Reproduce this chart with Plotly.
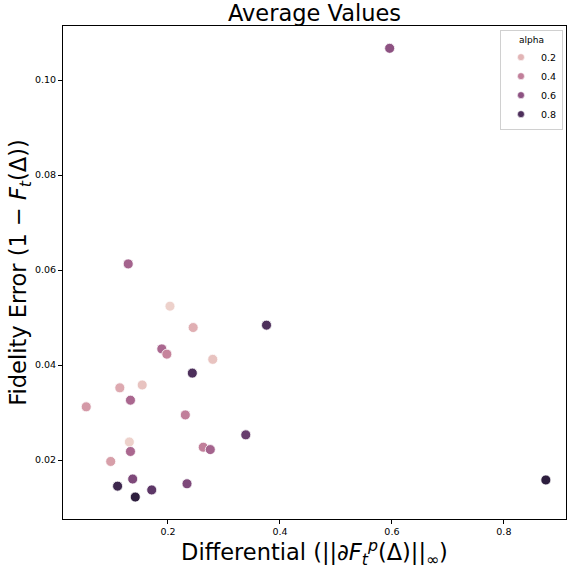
import numpy as np
import plotly.graph_objects as go

# ---- data ----
differential = [0.2036, 0.245, 0.376, 0.189, 0.198, 0.280, 0.2435, 0.154, 0.114, 0.133,
                0.054, 0.231, 0.339, 0.131, 0.263, 0.2756, 0.133, 0.0977, 0.137, 0.234,
                0.110, 0.171, 0.1416, 0.596, 0.875, 0.129]
fidelity_error = [0.0524, 0.0479, 0.0484, 0.0434, 0.0423, 0.0412, 0.0383, 0.0358, 0.0352, 0.0326,
                  0.0312, 0.0295, 0.0253, 0.0238, 0.0227, 0.0222, 0.0218, 0.0197, 0.0160, 0.0150,
                  0.0145, 0.0137, 0.0122, 0.1067, 0.0158, 0.0613]
alpha = [0.1, 0.22, 0.8, 0.5, 0.38, 0.15, 0.8, 0.15, 0.24, 0.5,
         0.3, 0.4, 0.72, 0.1, 0.4, 0.52, 0.5, 0.28, 0.65, 0.65,
         0.85, 0.75, 0.9, 0.6, 0.9, 0.52]
legend_levels = [0.2, 0.4, 0.6, 0.8]
x_ticks = [0.2, 0.4, 0.6, 0.8]
y_ticks = [0.02, 0.04, 0.06, 0.08, 0.10]


# ---- seaborn-like default cubehelix colormap ----
def cubehelix(t, start=0.0, rot=0.4, gamma=1.0, hue=0.8, light=0.85, dark=0.15):
    x = light + (dark - light) * t
    x = x ** gamma
    a = hue * x * (1 - x) / 2
    phi = 2 * np.pi * (start / 3 + rot * x)
    r = x + a * (-0.14861 * np.cos(phi) + 1.78277 * np.sin(phi))
    g = x + a * (-0.29227 * np.cos(phi) - 0.90649 * np.sin(phi))
    b = x + a * (1.97294 * np.cos(phi))
    c = [int(round(255 * min(max(v, 0), 1))) for v in (r, g, b)]
    return f"rgb({c[0]},{c[1]},{c[2]})"


colorscale = [[t, cubehelix(t)] for t in np.linspace(0, 1, 33)]
amin, amax = min(alpha), max(alpha)

fig = go.Figure()
fig.add_trace(go.Scatter(
    x=differential, y=fidelity_error, mode="markers", showlegend=False,
    marker=dict(size=10, color=alpha, colorscale=colorscale, cmin=amin, cmax=amax,
                line=dict(color="white", width=0.8)),
))
for lv in legend_levels:
    fig.add_trace(go.Scatter(
        x=[None], y=[None], mode="markers", name=f"{lv:.1f}",
        marker=dict(size=7, color=cubehelix((lv - amin) / (amax - amin)),
                    line=dict(color="white", width=0.6)),
    ))

font = "DejaVu Sans"
fig.update_layout(
    width=567, height=569,
    margin=dict(l=63, r=1, t=26, b=50),
    plot_bgcolor="white", paper_bgcolor="white",
    font=dict(family=font, color="black"),
    title=dict(text="Average Values", x=0.5, xref="paper", xanchor="center",
               y=1 - 13.5 / 569, yref="container", yanchor="middle",
               font=dict(size=22.5, family=font, color="black")),
    legend=dict(title=dict(text="alpha", side="top center", font=dict(size=9)),
                font=dict(size=9.5), x=0.994, y=0.992, xanchor="right", yanchor="top",
                bgcolor="white", bordercolor="#d0d0d0", borderwidth=1,
                itemwidth=30, tracegroupgap=0),
)
fig.update_xaxes(
    range=[0.0125, 0.911], tickvals=x_ticks, ticktext=[f"{v:.1f}" for v in x_ticks],
    showgrid=False, zeroline=False, showline=True, linecolor="black", linewidth=1, mirror=True,
    ticks="outside", ticklen=4, tickcolor="black", tickfont=dict(size=9.5),
    title=dict(text="Differential (||∂<i>F</i><sub><i>t</i></sub><sup><i>p</i></sup>(Δ)||<sub>∞</sub>)",
               font=dict(size=22.5), standoff=4),
)
fig.update_yaxes(
    range=[0.00758, 0.1114], tickvals=y_ticks, ticktext=[f"{v:.2f}" for v in y_ticks],
    showgrid=False, zeroline=False, showline=True, linecolor="black", linewidth=1, mirror=True,
    ticks="outside", ticklen=4, tickcolor="black", tickfont=dict(size=9.5),
    title=dict(text="Fidelity Error (1 − <i>F</i><sub><i>t</i></sub>(Δ))",
               font=dict(size=22.5), standoff=0),
)
fig.write_html("out.html")
